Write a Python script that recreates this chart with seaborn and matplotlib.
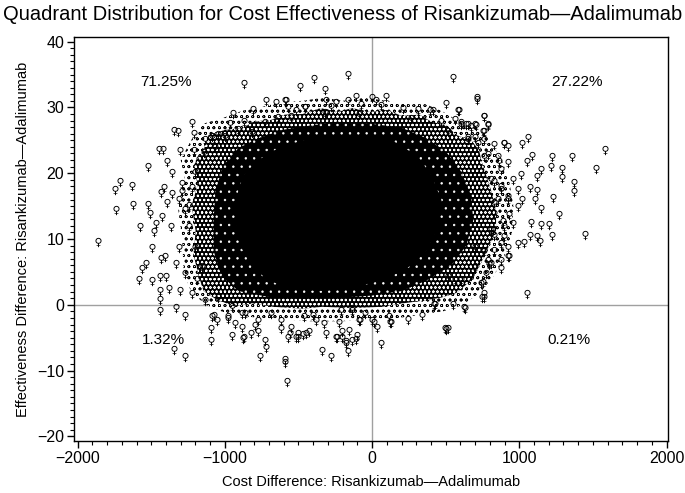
import matplotlib
matplotlib.use("Agg")
import matplotlib.pyplot as plt
import seaborn as sns
import pandas as pd
from matplotlib.ticker import MultipleLocator

# ---- data (cost difference, effectiveness difference) ----
cost_diff = [
    -871, -490, -718, -651, -590, -572, -516, -453, -808, -943, -871, -965, -1223, -1212, -1347, -1318,
    -1448, -1419, -1302, -1392, -1212, -1520, -1358, -1713, -1744, -1634, -1739, -1627, -1863, -1576,
    -1520, -1508, -1437, -1414, -1560, -1582, -1533, -1493, -1441, -1399, -1437, -1407, -1497, -1443,
    -1443, -1441, -1331, -1268, -1380, -1089, -1055, -1093, -1093, -1347, -1268, -954, -869, -826, -763,
    -718, -981, -887, -595,
    -1313, -1290, -1246, -1226, -1358, -1392, -1425, -1369, -1481, -1470, -1313, -1335, -1268, -1302,
    -1223, -1190, -1156, -1201, -1246, -1268, -1291, -1201, -1133, -1089, -1044, -999, -1145, -1066,
    -1178, -909, -819, -729, -640, -550,
    -1133, -1044, -954, -864, -774, -685, -617, -550, -505, -572,
    -162, -393, -321, 550, 714, 505, 588, 763, 790, 96, 0, 29, 61, -108, -74, -166, -247, -314, -456,
    -588, -276, -319, -90, 213, 314, 393, 415, 265, 471, 561, 606, 640, 673, 707, 516, 651, 696, 759,
    763, 830, 894, 920, 786, 853, 875, 830, 875, 920, 830, 887, 898, 830, 763, 808, 875, 920, 741, 763,
    624, 552, 426, 337, 242, 494, 516, 61, 34, 112, 130, 11, -45, -90, -157, -202, -247, -314, -337,
    -449, -505, -561, -460, -382, -213, -135, -180, -135, -101,
    584, 714, 759, 790, 752, 898, 1015, 1059, 1089, 1055, 1219, 1212, 1358, 1582, 1522, 1291, 1291,
    1374, 1374, 1145, 1122, 1010, 1073, 1122, 1106, 1230, 1149, 1268, 1201, 1145, 1077, 1073, 1118,
    1140, 1223, 1448, 1032, 992, 931, 875, 797, 774, 752, 763, 745, 1055, 628, 505,
    920, 954, 988, 1021, 988, 931, 898, 954, 875, 920, 830, 786, 696, 673, 606, 561, 516, 696, 808,
    830, 853, 875, 808, 920, 763, 864, 718, 651, 606, 651, 696,
    422, 0, 123, -162, -281, -579, -595, -875, -180, -112, -236, -202, -516, -471, -426, -617, -774,
    -729, -1077, -976, -931, -887, -797, -325, -224, -79, -135, -404,
]
eff_diff = [
    33.6, 33.1, 31.0, 30.7, 30.9, 29.9, 29.4, 29.9, 29.6, 29.0, 27.8, 27.5, 27.7, 26.0, 26.4, 26.2,
    23.5, 23.5, 23.3, 21.7, 23.3, 21.0, 20.0, 18.7, 17.5, 18.0, 14.4, 15.1, 9.5, 11.8,
    15.1, 13.8, 17.0, 17.8, 5.4, 3.7, 6.2, 3.6, 4.2, 4.2, 7.0, 7.2, 8.7, 2.1,
    0.7, -0.9, -0.5, -1.7, 2.4, -1.9, -2.4, -3.7, -5.5, -6.8, -7.9, -4.7, -5.0, -4.4, -7.9,
    -6.5, -2.2, -3.5, -8.4,
    16.0, 17.2, 15.0, 17.8, 16.9, 15.4, 13.3, 11.8, 11.0, 12.3, 8.7, 6.2, 4.7, 2.1,
    1.6, 3.7, 5.7, 8.7, 11.8, 14.4, 18.4, 20.0, 25.0, 25.5, 25.8, 25.5, 23.0, 23.8,
    22.0, 26.6, 26.1, 27.6, 28.4, 28.6,
    0.6, 1.1, -0.4, -1.4, -2.4, -1.4, -2.4, -3.5, -4.5, -5.0,
    35.0, 34.3, 32.6, 34.5, 31.4, 30.5, 29.5, 28.5, 27.2, 31.6, 31.4, 30.9, 30.2, 31.6, 30.4, 31.0, 30.7, 31.0, 29.9,
    30.9, 30.1, 29.2, 28.9, 29.7, 29.6, 29.5, 29.5, 28.3, 27.8, 28.1, 27.6, 27.3, 27.0, 27.2, 26.3, 25.3, 25.4, 26.3,
    25.0, 24.3, 24.5, 24.0, 22.7, 22.5, 20.5, 18.7, 17.4, 16.4, 15.4, 12.6, 10.3, 10.5, 8.0, 6.2, 6.7, 7.2, 3.2, 1.1,
    -0.5, 0.0, 0.0, -1.7, -2.3, -3.7, -3.7, -6.0, -3.5, -1.9, -2.8, -2.7, -1.4, -2.4, -4.0, -5.0, -5.0, -4.5, -7.0,
    -4.5, -5.0, -4.5, -1.9, -2.4, -0.9, -0.7, -6.0, -5.5, -4.7,
    29.5, 31.1, 28.6, 27.3, 26.3, 24.5, 24.5, 25.4, 22.6, 21.7, 22.4, 21.0, 22.4, 23.5, 20.6, 20.7, 19.2,
    18.5, 17.1, 20.5, 19.4, 19.8, 17.8, 17.3, 16.0, 16.3, 14.5, 13.6, 12.1, 12.1, 12.4, 10.5, 10.3,
    9.5, 10.5, 10.6, 9.4, 9.2, 7.2, 5.4, 6.0, 4.7, 3.3, 1.6, 1.1, 1.7, -0.7, -3.9,
    21.5, 18.9, 17.4, 15.9, 14.9, 13.6, 11.8, 12.3, 9.3, 8.7, 8.2, 6.7, 5.7, 4.4, 3.7, 3.7, 4.2, 8.7, 11.3,
    13.8, 15.9, 17.9, 18.9, 15.9, 22.5, 21.7, 24.5, 25.0, 27.3, 27.3, 27.3,
    0.0, -2.5, -2.7, -7.1, -8.0, -11.7, -8.8, -5.2, -5.7, -5.3, -5.1, -4.2, -5.1, -4.6, -4.1, -3.7, -4.2,
    -5.5, -1.7, -1.9, -2.9, -1.4, -3.2, -2.9, -2.7, -2.4, -0.9, -1.7,
]

# outline of the solid black core of the cloud
core_cost = [-929, -875, -774, -640, -471, -269, -67, 135, 303, 404, 471, 458, 370, 236, 67, -135,
             -337, -539, -707, -822, -896, -929]
core_eff = [15.9, 19.7, 22.0, 23.8, 25.0, 25.8, 25.8, 25.0, 22.7, 19.7, 15.9, 12.1, 8.2, 5.5, 3.7, 2.6,
            2.1, 2.4, 3.7, 6.0, 9.0, 12.5]
# outline of the very dense (speckled) zone
mid_cost = [-1077, -1064, -1010, -909, -774, -606, -404, -202, 0, 202, 370, 505, 606, 673, 687, 640,
            539, 370, 202, 0, -202, -471, -707, -909, -1024, -1077]
mid_eff = [12.8, 17.4, 21.2, 23.8, 25.3, 26.6, 27.3, 27.8, 27.5, 26.9, 25.3, 23.2, 20.2, 16.6, 12.8, 9.0,
           6.0, 3.7, 2.1, 1.4, 1.1, 0.9, 1.2, 2.1, 4.4, 8.2]
# outline of the zone of heavily overlapping markers
ring_cost = [-1199, -1226, -1185, -1212, -1145, -1111, -997, -875, -808, -687, -593, -471, -350, -236,
             -135, -13, 101, 202, 323, 404, 505, 572, 673, 727, 741, 808, 842, 842, 795, 741, 673,
             572, 471, 337, 202, 67, -135, -337, -471, -673, -808, -943, -1064, -1145, -1178, -1212]
ring_eff = [11.3, 15.1, 18.2, 21.2, 23.5, 25.8, 26.6, 26.9, 27.8, 28.1, 28.9, 29.0, 29.9, 29.3,
            29.9, 29.3, 29.6, 28.7, 28.9, 27.8, 27.3, 25.8, 25.0, 23.5, 22.0, 17.4, 14.4, 11.3, 9.0, 6.4, 3.7,
            1.8, 1.1, 0.6, 0.2, -0.3, -0.5, -0.3, -0.6, -0.3, 0.2, -0.2, 0.9, 2.1, 4.4, 7.5]
# outline of the looser fringe of overlapping markers
fringe_cost = [-1290, -1320, -1270, -1300, -1230, -1150, -1000, -880, -760, -620, -470, -330, -200, -60,
               100, 230, 360, 470, 580, 700, 800, 880, 930, 960, 950, 900, 830, 740, 620, 480, 330, 180,
               0, -200, -420, -650, -850, -1000, -1130, -1230, -1280]
fringe_eff = [10.0, 15.0, 19.0, 22.0, 25.0, 27.5, 28.5, 29.5, 30.0, 30.8, 31.0, 31.5, 31.0, 31.5,
              31.0, 30.5, 30.5, 29.5, 28.0, 27.0, 25.0, 22.0, 19.0, 15.0, 11.0, 7.5, 4.5, 2.0, 0.0, -1.0, -1.5, -2.0,
              -2.2, -2.5, -2.5, -2.2, -1.8, -1.2, 0.0, 2.0, 5.0]

quadrant_labels = ["71.25%", "27.22%", "1.32%", "0.21%"]
quadrant_x = [-1400, 1390, -1420, 1340]
quadrant_y = [33.8, 33.8, -5.3, -5.3]

x_ticks = [-2000, -1000, 0, 1000, 2000]
y_ticks = [-20, -10, 0, 10, 20, 30, 40]

title = "Quadrant Distribution for Cost Effectiveness of Risankizumab\u2014Adalimumab"
x_label = "Cost Difference: Risankizumab\u2014Adalimumab"
y_label = "Effectiveness Difference: Risankizumab\u2014Adalimumab"

# ---- plotting ----
sns.set_theme(style="white")
plt.rcParams["font.family"] = ["Liberation Sans", "DejaVu Sans"]
plt.rcParams["hatch.linewidth"] = 0.5

fig = plt.figure(figsize=(6.85, 4.93), dpi=100)
ax = fig.add_axes([74 / 685, 1 - 441 / 493, 594 / 685, 404 / 493])

ax.axhline(0, color="#a0a0a0", lw=1.0, zorder=0.5)
ax.axvline(0, color="#a0a0a0", lw=1.0, zorder=0.5)

ax.fill(fringe_cost, fringe_eff, facecolor="white", edgecolor="black", hatch="ooo", linewidth=0, zorder=0.8)
ax.fill(ring_cost, ring_eff, facecolor="black", edgecolor="white", hatch="oooo", linewidth=0, zorder=1)
ax.fill(mid_cost, mid_eff, facecolor="black", edgecolor="white", hatch="..", linewidth=0, zorder=1.5)
ax.fill(core_cost, core_eff, color="black", linewidth=0, zorder=2)

df = pd.DataFrame({"cost": cost_diff, "eff": eff_diff})
sns.scatterplot(data=df, x="cost", y="eff", marker="$\u2640$", s=45, color="black",
                linewidth=0, ax=ax, zorder=3, legend=False)

for lab, qx, qy in zip(quadrant_labels, quadrant_x, quadrant_y):
    ax.text(qx, qy, lab, ha="center", va="center", fontsize=11, color="black", zorder=4)

ax.set_xlim(-2025, 2010)
ax.set_ylim(-20.7, 40.7)
ax.set_xticks(x_ticks)
ax.set_yticks(y_ticks)
ax.xaxis.set_minor_locator(MultipleLocator(100))
ax.yaxis.set_minor_locator(MultipleLocator(1))
ax.tick_params(axis="both", which="major", direction="out", length=5, width=1, color="black",
               labelsize=11.5, labelcolor="black", bottom=True, left=True, top=False, right=False, pad=2)
ax.tick_params(axis="both", which="minor", direction="out", length=3, width=0.8, color="black",
               bottom=True, left=True, top=False, right=False)
for sp in ax.spines.values():
    sp.set_color("black")
    sp.set_linewidth(1)

ax.set_xlabel(x_label, fontsize=10.5, color="black", labelpad=7)
ax.set_ylabel(y_label, fontsize=10.5, color="black", labelpad=5)
fig.text(0.5, 1 - 14 / 493, title, ha="center", va="center", fontsize=14.5, color="black")

fig.savefig("out.png", dpi=100)
